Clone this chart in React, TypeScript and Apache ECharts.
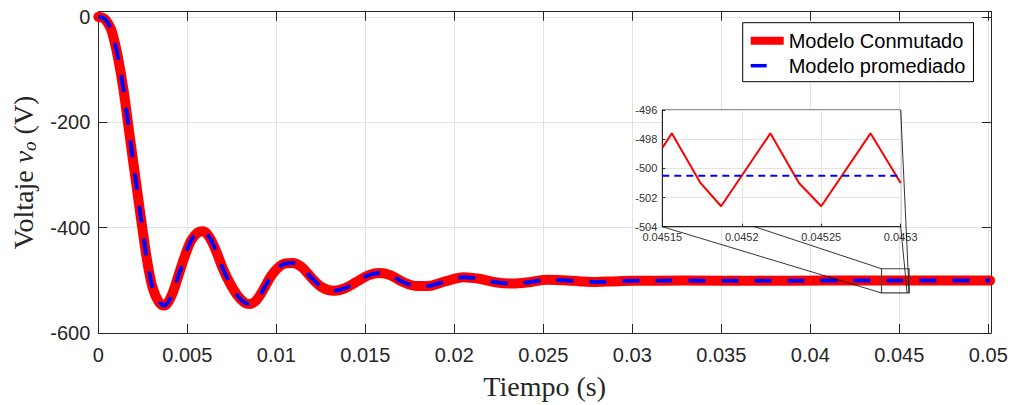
import React, { useEffect, useRef } from "react";
import * as echarts from "echarts";

// Main transient (s, V)
const tiempo = [0, 0.0002, 0.0004, 0.0007, 0.0009, 0.0011, 0.0014, 0.00167, 0.00195, 0.00223, 0.00251, 0.00279, 0.00307, 0.0034, 0.0037, 0.0041, 0.0045, 0.00485, 0.00522, 0.0056, 0.0059, 0.0062, 0.0066, 0.007, 0.0074, 0.0078, 0.0082, 0.0085, 0.0089, 0.0093, 0.0097, 0.0101, 0.0105, 0.0109, 0.0114, 0.012, 0.01255, 0.0132, 0.01386, 0.0145, 0.0152, 0.0158, 0.0164, 0.0171, 0.0179, 0.0185, 0.0192, 0.0198, 0.0205, 0.0214, 0.0224, 0.0233, 0.0243, 0.0252, 0.0261, 0.0271, 0.028, 0.0289, 0.03, 0.033, 0.037, 0.041, 0.045, 0.0501];
const voltaje = [0, -1, -5, -22, -45, -76, -135, -202, -272, -341, -410, -472, -516, -541, -548, -530, -491, -455, -424, -409, -407, -416, -443, -478, -506, -528, -542, -545, -537, -516, -492, -476, -468, -467, -474, -496, -513, -520, -515, -503, -490, -486, -490, -503, -511, -511, -505, -499, -494, -497, -504, -506, -503, -499, -500, -502, -503, -502, -501, -500.5, -501, -500.5, -500.5, -500.5];

// Inset (zoom) data
const tiempoZoom = [0.04515, 0.045156, 0.045174, 0.045187, 0.045218, 0.045236, 0.04525, 0.045281, 0.0453];
const conmutadoZoom = [-498.6, -497.6, -501.0, -502.6, -497.6, -501.0, -502.6, -497.6, -501.0];
const tiempoZoomProm = [0.04515, 0.0453];
const promediadoZoom = [-500.5, -500.5];

const serieNombres = ["Modelo Conmutado", "Modelo promediado"];

// Axis ranges
const xMain = { min: 0, max: 0.05015, interval: 0.005 };
const yMain = { min: -600, max: 10, interval: 200 };
const xZoom = { min: 0.04515, max: 0.0453, interval: 0.00005 };
const yZoom = { min: -504, max: -496, interval: 2 };

// Zoom rectangle on main axes (data coords)
const zoomRectX = [0.044, 0.04555];
const zoomRectY = [-524, -478];

const AXIS = "#262626";
const GRIDC = "#e3e3e3";
const SANS = "Liberation Sans, Arial, sans-serif";
const SERIF = "Liberation Serif, Times New Roman, serif";

const fmt = (step: number) => (v: number) => {
  const k = v / step;
  if (Math.abs(k - Math.round(k)) > 1e-6) return "";
  return String(parseFloat(v.toFixed(6)));
};

export default function App() {
  const ref = useRef<HTMLDivElement>(null);
  useEffect(() => {
    if (!ref.current) return;
    const chart = echarts.init(ref.current, undefined, { renderer: "svg" });
    const zip = (a: number[], b: number[]) => a.map((x, i) => [x, b[i]]);
    const option: any = {
      animation: false,
      backgroundColor: "#fff",
      grid: [
        { left: 98.3, right: 22, top: 11.7, bottom: 71.7, containLabel: false },
        {
          left: 662.3, right: 112.3, top: 110, bottom: 178.3,
          show: true, backgroundColor: "#fff", borderColor: AXIS, borderWidth: 1, z: 3,
        },
      ],
      legend: {
        left: 742.7, top: 22.7, orient: "vertical",
        backgroundColor: "#fff", borderColor: "#000", borderWidth: 1,
        padding: [8, 8, 6, 4], itemGap: 5, itemWidth: 33, itemHeight: 14,
        textStyle: { fontFamily: SANS, fontSize: 20, color: "#000" },
        itemStyle: { opacity: 0 },
        data: [
          { name: serieNombres[0], lineStyle: { width: 8, color: "#ff0000", type: "solid", cap: "butt" } },
          { name: serieNombres[1], lineStyle: { width: 3.5, color: "#0000ff", type: [16, 17], cap: "butt" } },
        ],
        z: 20,
      },
      xAxis: [
        {
          gridIndex: 0, type: "value", position: "bottom", ...xMain,
          axisLine: { show: true, onZero: false, lineStyle: { color: AXIS, width: 1 } },
          axisTick: { show: true, inside: true, length: 9, lineStyle: { color: AXIS } },
          axisLabel: { formatter: fmt(xMain.interval), fontFamily: SANS, fontSize: 20, color: AXIS, margin: 12 },
          splitLine: { show: true, lineStyle: { color: GRIDC, width: 1 } },
          name: "Tiempo (s)", nameLocation: "middle", nameGap: 39,
          nameTextStyle: { fontFamily: SERIF, fontSize: 28, color: AXIS },
        },
        {
          gridIndex: 0, type: "value", position: "top", ...xMain,
          axisLine: { show: true, onZero: false, lineStyle: { color: AXIS, width: 1 } },
          axisTick: { show: true, inside: true, length: 9, lineStyle: { color: AXIS } },
          axisLabel: { show: false }, splitLine: { show: false },
        },
        {
          gridIndex: 1, type: "value", position: "bottom", ...xZoom, z: 4,
          axisLine: { show: true, onZero: false, lineStyle: { color: AXIS, width: 1 } },
          axisTick: { show: true, inside: true, length: 3, lineStyle: { color: AXIS } },
          axisLabel: { formatter: fmt(xZoom.interval), fontFamily: SANS, fontSize: 11, color: "#333", margin: 5 },
          splitLine: { show: true, lineStyle: { color: GRIDC, width: 1 } },
        },
      ],
      yAxis: [
        {
          gridIndex: 0, type: "value", position: "left", ...yMain,
          axisLine: { show: true, onZero: false, lineStyle: { color: AXIS, width: 1 } },
          axisTick: { show: true, inside: true, length: 9, lineStyle: { color: AXIS } },
          axisLabel: { formatter: fmt(yMain.interval), fontFamily: SANS, fontSize: 20, color: AXIS, margin: 8 },
          splitLine: { show: true, lineStyle: { color: GRIDC, width: 1 } },
          name: "{a|Voltaje }{b|v}{c|o}{a| (V)}", nameLocation: "middle", nameGap: 58,
          nameTextStyle: {
            color: AXIS,
            rich: {
              a: { fontFamily: SERIF, fontSize: 28, color: AXIS, lineHeight: 32 },
              b: { fontFamily: SERIF, fontSize: 28, fontStyle: "italic", color: AXIS, lineHeight: 32 },
              c: { fontFamily: SERIF, fontSize: 19, fontStyle: "italic", color: AXIS, lineHeight: 19, verticalAlign: "bottom" },
            },
          },
        },
        {
          gridIndex: 0, type: "value", position: "right", ...yMain,
          axisLine: { show: true, onZero: false, lineStyle: { color: AXIS, width: 1 } },
          axisTick: { show: true, inside: true, length: 9, lineStyle: { color: AXIS } },
          axisLabel: { show: false }, splitLine: { show: false },
        },
        {
          gridIndex: 1, type: "value", position: "left", ...yZoom, z: 4,
          axisLine: { show: true, onZero: false, lineStyle: { color: AXIS, width: 1 } },
          axisTick: { show: true, inside: true, length: 3, lineStyle: { color: AXIS } },
          axisLabel: { formatter: fmt(yZoom.interval), fontFamily: SANS, fontSize: 11, color: "#333", margin: 5 },
          splitLine: { show: true, lineStyle: { color: GRIDC, width: 1 } },
        },
      ],
      series: [
        {
          name: serieNombres[0], type: "line", xAxisIndex: 0, yAxisIndex: 0,
          data: zip(tiempo, voltaje), symbol: "none", smooth: 0.35, z: 2,
          lineStyle: { color: "#ff0000", width: 10, cap: "round", join: "round" },
          itemStyle: { color: "#ff0000" },
        },
        {
          name: serieNombres[1], type: "line", xAxisIndex: 0, yAxisIndex: 0,
          data: zip(tiempo, voltaje), symbol: "none", smooth: 0.35, z: 3,
          lineStyle: { color: "#0000ff", width: 4, type: [17, 16], cap: "butt" },
          itemStyle: { color: "#0000ff" },
        },
        {
          name: serieNombres[0], type: "line", xAxisIndex: 2, yAxisIndex: 2,
          data: zip(tiempoZoom, conmutadoZoom), symbol: "none", z: 6,
          lineStyle: { color: "#ff0000", width: 2 }, itemStyle: { color: "#ff0000" },
        },
        {
          name: serieNombres[1], type: "line", xAxisIndex: 2, yAxisIndex: 2,
          data: zip(tiempoZoomProm, promediadoZoom), symbol: "none", z: 6,
          lineStyle: { color: "#0000ff", width: 2, type: [7, 5] }, itemStyle: { color: "#0000ff" },
        },
      ],
    };
    chart.setOption(option);

    const pm = (x: number, y: number) => chart.convertToPixel({ xAxisIndex: 0, yAxisIndex: 0 } as any, [x, y]) as number[];
    const pz = (x: number, y: number) => chart.convertToPixel({ xAxisIndex: 2, yAxisIndex: 2 } as any, [x, y]) as number[];
    const r0 = pm(zoomRectX[0], zoomRectY[1]);
    const r1 = pm(zoomRectX[1], zoomRectY[0]);
    const zBL = pz(xZoom.min, yZoom.min);
    const zBM = pz(0.045208, yZoom.min);
    const zTR = pz(xZoom.max, yZoom.max);
    const zBR = pz(xZoom.max, yZoom.min);
    const lineEl = (a: number[], b: number[]) => ({
      type: "line", z: 10, silent: true,
      shape: { x1: a[0], y1: a[1], x2: b[0], y2: b[1] },
      style: { stroke: "#000", lineWidth: 0.8 },
    });
    chart.setOption({
      graphic: [
        {
          type: "rect", z: 10, silent: true,
          shape: { x: r0[0], y: r0[1], width: r1[0] - r0[0], height: r1[1] - r0[1] },
          style: { fill: "none", stroke: "#444", lineWidth: 1.2 },
        },
        lineEl(zBL, [r0[0], r1[1]]),
        lineEl(zBM, [r0[0], r0[1]]),
        lineEl(zTR, [r1[0], r1[1]]),
        lineEl(zBR, [r1[0] - 2, r1[1]]),
      ],
    });
    return () => chart.dispose();
  }, []);
  return <div ref={ref} style={{ position: "absolute", left: 0, top: 0, width: 1013, height: 405 }} />;
}
